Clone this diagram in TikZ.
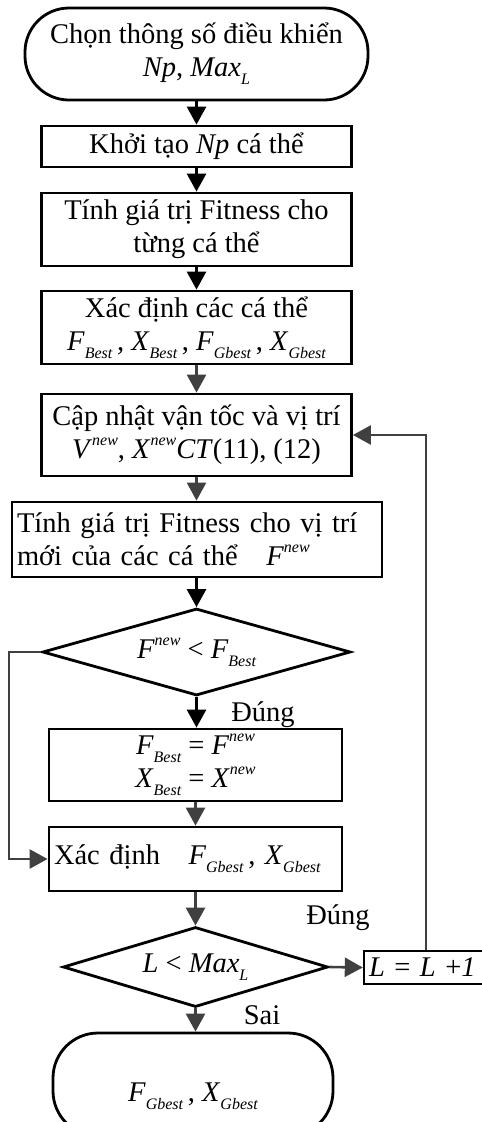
\documentclass[tikz,border=0pt]{standalone}
\usepackage{fontspec}
\setmainfont{Liberation Serif}
\usetikzlibrary{arrows.meta,shapes.geometric}
\definecolor{dg}{HTML}{404040}
\newcommand{\mylo}[1]{\raisebox{-8pt}{\fontsize{16}{16}\selectfont\itshape #1}}
\newcommand{\myhi}[1]{\raisebox{13pt}{\fontsize{16}{16}\selectfont\itshape #1}}
\tikzset{
  box/.style={draw, line width=2.8pt, inner sep=0pt, align=center, font=\fontsize{28.5}{33}\selectfont},
  dia/.style={draw, diamond, line width=2.8pt, inner sep=0pt, font=\fontsize{28.5}{33}\selectfont},
  lbl/.style={inner sep=0pt, font=\fontsize{28.5}{33}\selectfont},
  blk/.style={black, line width=2.8pt, -{Triangle[length=18pt,width=19pt]}},
  gry/.style={dg, line width=2.6pt, -{Triangle[length=18pt,width=19pt]}}
}
\begin{document}
\begin{tikzpicture}[x=1pt,y=-1pt]
\useasboundingbox (0,0) rectangle (482,1122);
\node[box, rounded corners=44pt, minimum width=343pt, minimum height=92pt] (start) at (196.5,54) {Chọn thông số điều khiển\\\textit{Np}, \textit{Max}\mylo{L}};
\node[box, minimum width=310pt, minimum height=41pt] (b1) at (196.5,146.5) {Khởi tạo \textit{Np} cá thể};
\node[box, minimum width=310pt, minimum height=73pt] (b2) at (196.5,229.5) {Tính giá trị Fitness cho\\từng cá thể};
\node[box, minimum width=310pt, minimum height=73pt] (b3) at (196.5,327.5) {Xác định các cá thể\\\textit{F}\mylo{Best}\,, \textit{X}\mylo{Best}\,, \textit{F}\mylo{Gbest}\,, \textit{X}\mylo{Gbest}};
\node[box, minimum width=310pt, minimum height=82pt] (b4) at (196.5,435) {Cập nhật vận tốc và vị trí\\\textit{V}\myhi{new}, \textit{X}\myhi{new}\textit{CT}(11), (12)};
\node[box, text width=360pt, inner xsep=5pt, align=left, minimum height=75pt] (b5) at (197,539.5) {Tính giá trị Fitness cho vị trí\\mới của các cá thể\quad \textit{F}\myhi{new}};
\node[dia, aspect=3.54, minimum width=308pt, minimum height=87pt] (d1) at (196.5,652) {\textit{F}\myhi{new} < \textit{F}\mylo{Best}};
\node[box, minimum width=293pt, minimum height=72pt] (b6) at (195.5,765) {\textit{F}\mylo{Best} = \textit{F}\myhi{new}\\\textit{X}\mylo{Best} = \textit{X}\myhi{new}};
\node[box, text width=283pt, inner xsep=5pt, align=left, minimum height=64pt] (b7) at (195.5,859) {Xác định\quad \textit{F}\mylo{Gbest}\,, \textit{X}\mylo{Gbest}};
\node[dia, aspect=3.3, minimum width=265pt, minimum height=80pt] (d2) at (195.5,967) {\textit{L} < \textit{Max}\mylo{L}};
\node[box, line width=2.4pt, text width=114pt, inner xsep=5pt, align=left, minimum height=33pt] (bl) at (426,967.5) {\textit{L} = \textit{L} +\textit{1}};
\node[box, rounded corners=45pt, minimum width=280pt, minimum height=103pt] (end) at (193,1084.5) {};
\node[lbl] (endtxt) at ([yshift=-12pt]end.center) {\textit{F}\mylo{Gbest}\,, \textit{X}\mylo{Gbest}};
\node[lbl] (yes1) at (263,715) {Đúng};
\node[lbl] (yes2) at (338,918) {Đúng};
\node[lbl] (no) at (262,1015) {Sai};
\draw[blk] (start.south) -- (b1.north);
\draw[blk] (b1.south) -- (b2.north);
\draw[blk] (b2.south) -- (b3.north);
\draw[gry] (b3.south) -- (b4.north);
\draw[gry] (b4.south) -- (b4.south |- b5.north);
\draw[blk] (b5.south -| d1.north) -- (d1.north);
\draw[blk] (d1.south) -- (d1.south |- b6.north);
\draw[gry] (b6.south) -- (b7.north);
\draw[gry] (d1.west) -- ++(-32,0) |- (b7.west);
\draw[gry] (b7.south) -- (d2.north);
\draw[gry] (d2.east) -- (bl.west);
\draw[gry] (bl.north) |- (b4.east);
\draw[gry] (d2.south) -- (d2.south |- end.north);
\end{tikzpicture}
\end{document}
